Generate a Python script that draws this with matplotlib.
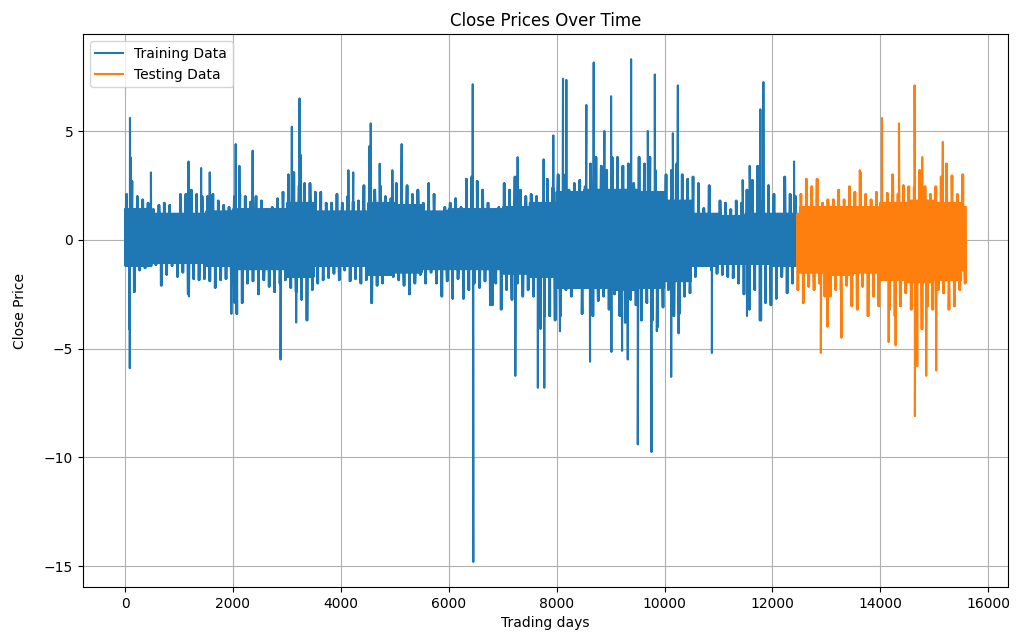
import numpy as np
import matplotlib
matplotlib.use("Agg")
import matplotlib.pyplot as plt

# series layout
n_days = 15590
split_day = 12450

# solid inner band, one value per 500 trading days
core_hi = [1.4, 1.2, 1.2, 1.3, 1.4, 1.4, 1.7, 1.3, 1.3, 1.7, 1.6, 1.3, 1.4, 1.4, 1.5, 1.7,
           2.2, 2.3, 2.3, 2.2, 1.8, 1.2, 1.1, 1.2, 1.2, 1.5, 1.5, 1.5, 1.7, 1.8, 1.7, 1.5]
core_lo = [-1.2, -1.05, -1.05, -1.2, -1.35, -1.35, -1.7, -1.2, -1.2, -1.6, -1.5, -1.35, -1.35, -1.35, -1.55, -1.7,
           -2.2, -2.2, -2.3, -2.2, -1.9, -1.2, -1.1, -1.1, -1.2, -1.5, -1.6, -1.5, -1.85, -1.95, -1.85, -1.4]

# ragged outer edge, one high and one low per 100 trading days
edge_hi = [2.1, 2.7, 2.0, 1.85, 1.7, 1.4, 1.6, 1.7, 1.6, 0.9, 2.1, 2.1, 2.3, 2.1, 2.0, 2.0, 2.1, 1.8,
           1.6, 1.5, 2.0, 2.1, 2.0, 1.75, 2.0, 1.8, 1.4, 1.5, 1.9, 2.2, 3.0, 3.1, 2.5, 2.6, 2.6, 2.2,
           2.2, 1.7, 1.7, 2.1, 1.7,
           2.0, 1.75, 1.8, 2.5, 2.4, 2.3, 2.5, 2.0, 1.9, 2.6, 1.8, 2.5, 2.1, 2.3, 1.7, 2.6, 2.1, 1.2,
           1.5, 1.7, 1.9, 1.5, 2.8, 2.9, 2.7, 2.3, 1.7, 1.4, 1.5, 2.6, 2.3, 2.9, 2.3, 2.0, 2.1, 2.0,
           1.45, 2.8, 2.4,
           3.0, 3.0, 2.3, 2.6, 2.75, 2.45, 3.5, 3.8, 3.4, 3.2, 3.8, 3.8, 3.4, 3.5, 2.6, 3.8, 3.5, 3.8,
           3.2, 2.2, 3.0, 3.2, 3.5, 3.0, 2.8, 2.9, 2.6, 1.45, 2.5, 1.1, 1.8, 1.7, 1.4, 1.8, 1.7, 2.3,
           2.75, 3.4, 1.8, 2.5, 2.1,
           1.2, 2.9, 2.1, 2.0, 2.1, 2.8, 2.45, 2.8, 1.7, 1.85, 1.85, 2.3, 1.85, 2.45, 2.2, 3.1, 2.1,
           1.85, 2.2, 1.2, 2.15, 3.0, 2.1, 2.5, 2.45, 2.4, 3.2, 2.45, 2.1, 2.45, 2.9, 3.5, 2.95, 2.1, 3.0]
edge_lo = [-1.2, -2.4, -1.4, -1.3, -1.15, -1.15, -2.1, -1.6, -1.2, -1.7, -1.5, -2.5, -1.8, -1.85, -1.8,
           -1.9, -2.2, -1.85, -1.8, -2.0, -3.4, -2.9, -2.0, -1.9, -2.5, -1.85, -2.15, -2.4, -2.0, -1.85,
           -2.2, -2.4, -2.75, -3.7, -2.3, -2.0, -1.85, -1.75, -1.55, -1.85, -1.4,
           -1.9, -1.8, -2.0, -1.85, -2.9, -2.1, -2.0, -1.5, -1.7, -1.85, -2.1, -2.5, -2.0, -1.6, -2.0,
           -1.5, -2.0, -2.6, -1.9, -2.7, -1.8, -2.7, -2.3, -2.0, -2.2, -1.9, -3.0, -2.0, -3.2, -2.3,
           -2.75, -2.0, -2.6, -2.3, -2.6, -2.0, -3.5, -3.5, -3.7,
           -3.5, -2.3, -2.6, -2.0, -3.4, -2.0, -3.5, -2.8, -2.6, -3.2, -2.5, -3.5, -3.8, -2.75, -3.0,
           -3.7, -2.9, -3.7, -4.0, -3.1, -2.3, -3.5, -3.4, -2.6, -2.45, -1.7, -1.2, -1.15, -1.4, -1.55,
           -1.6, -1.7, -1.75, -2.0, -2.5, -3.2, -2.3, -3.7, -2.9, -3.0, -2.7,
           -1.7, -2.45, -2.0, -2.3, -2.9, -2.15, -2.3, -2.0, -2.6, -2.6, -2.3, -2.3, -2.1, -3.05, -3.2,
           -2.15, -3.5, -2.6, -3.05, -1.7, -3.2, -3.5, -3.05, -2.45, -3.2, -3.5, -4.1, -3.05, -3.2, -2.3,
           -2.45, -3.2, -3.05, -2.3, -2.0]

# single-day spikes beyond the edge
spike_days = [80, 88, 92, 100, 480, 1177, 1185, 1410, 1570,
              1971, 2030, 2051, 2120, 2365, 2883, 3092, 3172, 3234, 3260,
              4140, 4230, 4530, 4554, 4560, 4720, 4955, 5127, 5866,
              6445, 6455, 6815, 7234, 7277, 7652, 7700, 7758,
              7771, 7938, 8062, 8118, 8180, 8551, 8619, 8687, 8885, 9009, 9015,
              9213, 9318, 9380, 9504, 9690, 9758, 9820, 9857, 10123, 10154, 10247,
              10260, 10878, 11448, 11528, 11578, 11776, 11790, 11832, 12400,
              12897, 13021, 13279, 13618, 14031, 14154, 14283, 14345, 14634, 14640,
              14684, 14776, 14850, 15035, 15158]
spike_vals = [-4.1, -5.9, 5.6, 3.8, 3.1, 3.6, -2.6, 3.3, 3.1,
              -3.4, -2.9, 4.4, 3.4, 4.1, -5.5, 5.2, -3.8, 6.5, 3.9,
              3.2, 3.1, 4.3, 5.35, -2.9, 3.5, 3.2, 4.4, -2.6,
              7.15, -14.8, -3.0, -6.25, 3.8, -6.8, -4.1, 3.7,
              -6.8, 4.8, -4.2, 7.4, 7.35, 6.2, -5.6, 8.15, 5.0, 6.6, -5.15,
              -5.1, -5.5, 8.3, -9.4, 5.0, -9.75, 7.6, -4.2, -6.3, 4.9, 7.1,
              -4.3, -5.2, 2.75, -3.5, 3.4, 6.0, -3.7, 7.25, 3.6,
              -5.2, -4.0, -4.5, 3.2, 5.6, -4.7, -4.85, 5.35, 7.1, -8.1,
              -5.8, 3.8, -6.25, -6.0, 4.5]

# zig-zag through the inner band, add the edge and spike points by date
band_days = np.arange(0, n_days, 8)
seg = band_days // 500
band_vals = np.where(np.arange(len(band_days)) % 2 == 0,
                     np.array(core_hi)[seg], np.array(core_lo)[seg])
edge_days = np.arange(len(edge_hi)) * 100

days = np.concatenate([band_days, edge_days + 22, edge_days + 34,
                       edge_days + 66, edge_days + 78, spike_days])
vals = np.concatenate([band_vals, edge_hi, edge_hi, edge_lo, edge_lo, spike_vals])
order = np.argsort(days, kind="stable")
days = days[order]
vals = vals[order]

train = days < split_day
test = days >= split_day

fig = plt.figure(figsize=(10.17, 6.43), dpi=100)
ax = fig.add_subplot(111)
fig.subplots_adjust(left=0.0816, right=0.991, top=0.947, bottom=0.087)

ax.plot(days[train], vals[train], label="Training Data")
ax.plot(days[test], vals[test], label="Testing Data")
ax.set_title("Close Prices Over Time")
ax.set_xlabel("Trading days")
ax.set_ylabel("Close Price", labelpad=12)
ax.legend(loc="upper left")
ax.grid(True)

fig.savefig("out.png")
